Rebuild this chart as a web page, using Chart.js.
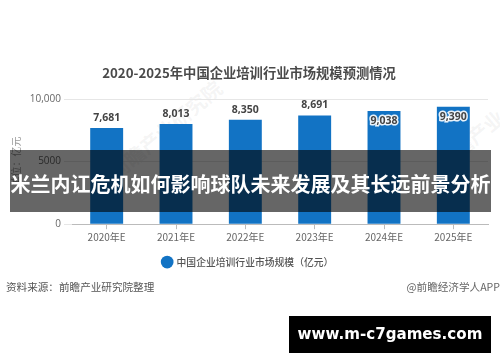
<!DOCTYPE html>
<html>
<head>
<meta charset="utf-8">
<script src="https://cdn.jsdelivr.net/npm/chart.js@4"></script>
<style>
    html, body { margin: 0; padding: 0; background: #fff; overflow: hidden; }
    body { position: relative; width: 500px; height: 362px; font-family: "Noto Sans CJK SC", sans-serif; }
    #wrap { position: absolute; left: 0; top: 0; width: 500px; height: 362px; }
    canvas { display: block; }
    .txt { position: absolute; white-space: nowrap; }
    #title { left: 0; width: 498px; top: 63px; text-align: center; font-size: 13.3px; line-height: 20px; font-weight: 700; color: #4a4a4a; }
    #band { left: 10px; top: 150px; width: 481px; height: 62px; background: rgba(0, 0, 0, 0.6); color: #fff; font-size: 20px; font-weight: 700; line-height: 68px; text-align: center; }
    #source { left: 6px; top: 279px; font-size: 10.6px; line-height: 16px; color: #555; }
    #credit { right: 0; top: 279px; font-size: 10.6px; line-height: 16px; color: #666; }
    #site { left: 289px; top: 316px; width: 202px; height: 37px; background: #000; color: #fff; font-family: "DejaVu Sans", sans-serif; font-size: 15.1px; font-weight: 700; line-height: 37px; text-align: center; }
    .mark { color: rgba(150, 150, 150, 0.1); font-size: 20px; font-weight: 700; transform: rotate(-40deg); }
</style>
</head>
<body>
<div class="txt mark" style="left:95px;top:115px">前瞻产业研究院</div>
<div class="txt mark" style="left:430px;top:125px">前瞻产业</div>
<div id="wrap"><canvas id="market-size" width="500" height="362"></canvas></div>
<div class="txt" id="title"></div>
<div class="txt" id="band"></div>
<div class="txt" id="source"></div>
<div class="txt" id="credit"></div>
<div class="txt" id="site"></div>
<script>
const titleText = '2020-2025年中国企业培训行业市场规模预测情况';
const bandText = '米兰内讧危机如何影响球队未来发展及其长远前景分析';
const sourceText = '资料来源：前瞻产业研究院整理';
const creditText = '@前瞻经济学人APP';
const siteText = 'www.m-c7games.com';
const unitText = '单位：亿元';

const years = ['2020年E', '2021年E', '2022年E', '2023年E', '2024年E', '2025年E'];
const marketSize = [7681, 8013, 8350, 8691, 9038, 9390];
const valueLabels = ['7,681', '8,013', '8,350', '8,691', '9,038', '9,390'];
const yTickLabels = { 0: '0', 5000: '5000', 10000: '10,000' };
const seriesName = '中国企业培训行业市场规模（亿元）';

document.getElementById('title').textContent = titleText;
document.getElementById('band').textContent = bandText;
document.getElementById('source').textContent = sourceText;
document.getElementById('credit').textContent = creditText;
document.getElementById('site').textContent = siteText;

const CJK = '"Noto Sans CJK SC", sans-serif';

// value labels: the last two sit inside the bar with a white halo
const valueLabelPlugin = {
    id: 'valueLabels',
    afterDatasetsDraw(chart) {
        const ctx = chart.ctx;
        const bars = chart.getDatasetMeta(0).data;
        ctx.save();
        ctx.font = '700 10.5px "Open Sans", sans-serif';
        ctx.textAlign = 'center';
        ctx.textBaseline = 'middle';
        bars.forEach((bar, index) => {
            const inside = index >= 4;
            const y = inside ? bar.y + 10 : bar.y - 10;
            if (inside) {
                ctx.lineWidth = 3;
                ctx.strokeStyle = 'rgba(255, 255, 255, 0.9)';
                ctx.strokeText(valueLabels[index], bar.x, y);
            }
            ctx.fillStyle = '#444';
            ctx.fillText(valueLabels[index], bar.x, y);
        });
        ctx.restore();
    }
};

new Chart(
    document.getElementById('market-size'),
    {
        type: 'bar',
        plugins: [valueLabelPlugin],
        data: {
            labels: years,
            datasets: [
                {
                    label: seriesName,
                    data: marketSize,
                    backgroundColor: '#1273c4',
                    barPercentage: 0.475,
                    categoryPercentage: 1
                }
            ]
        },
        options: {
            responsive: false,
            animation: false,
            layout: {
                padding: { left: 8, right: 12, top: 99, bottom: 85 }
            },
            plugins: {
                tooltip: { enabled: false },
                legend: {
                    display: true,
                    position: 'bottom',
                    labels: {
                        usePointStyle: true,
                        pointStyle: 'circle',
                        boxWidth: 9,
                        boxHeight: 9,
                        padding: 6,
                        color: '#555',
                        font: { family: CJK, size: 9.8, weight: '500' }
                    }
                }
            },
            scales: {
                x: {
                    grid: {
                        offset: false,
                        drawOnChartArea: false,
                        drawTicks: true,
                        tickLength: 5,
                        color: '#bbb'
                    },
                    border: { color: '#bbb' },
                    ticks: {
                        color: '#666',
                        padding: 2,
                        maxRotation: 0,
                        font: { family: CJK, size: 10 }
                    },
                    afterFit: (scale) => { scale.height = 27; }
                },
                y: {
                    min: 0,
                    max: 10000,
                    title: {
                        display: true,
                        text: unitText,
                        color: '#999',
                        padding: { top: 2, bottom: 0 },
                        font: { family: CJK, size: 10 }
                    },
                    grid: {
                        color: '#e6e6e6',
                        tickLength: 8
                    },
                    border: { display: false },
                    ticks: {
                        stepSize: 5000,
                        color: '#666',
                        padding: 3,
                        font: { family: '"Open Sans", sans-serif', size: 10 },
                        callback: (value) => yTickLabels[value]
                    },
                    afterFit: (scale) => { scale.width = 64; }
                }
            }
        }
    }
);
</script>
</body>
</html>
